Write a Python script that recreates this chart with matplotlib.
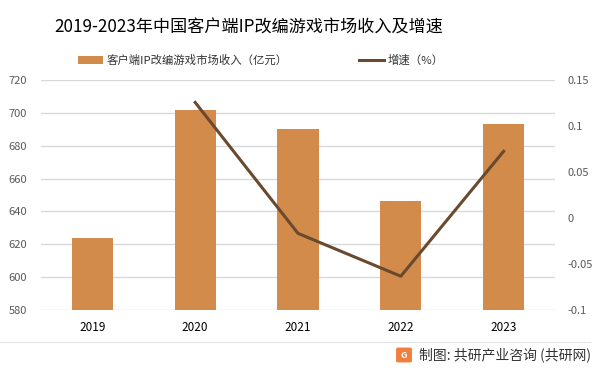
import matplotlib.pyplot as plt
from matplotlib.patches import FancyBboxPatch

plt.rcParams['font.family'] = ['Noto Sans CJK SC', 'DejaVu Sans']

years = ['2019', '2020', '2021', '2022', '2023']
revenue = [623.7, 702.0, 690.3, 646.6, 693.5]
growth_years = ['2020', '2021', '2022', '2023']
growth = [0.1256, -0.0167, -0.0633, 0.0725]

bar_color = '#D38B4C'
line_color = '#694A2E'
tick_color = '#595959'

fig = plt.figure(figsize=(6.01, 3.74), dpi=100)
ax = fig.add_axes([41 / 601, 1 - 310 / 374, 514 / 601, 230 / 374])
ax2 = ax.twinx()

x = list(range(len(years)))
ax.bar(x, revenue, width=0.4, color=bar_color, zorder=2,
       label='客户端IP改编游戏市场收入（亿元）')
ax.set_ylim(580, 720)
ax.set_yticks(range(580, 721, 20))
ax.set_xlim(-0.5, 4.5)
ax.set_xticks(x)
ax.set_xticklabels(years)
ax.grid(axis='y', color='#D9D9D9', linewidth=1, zorder=0)
ax.set_axisbelow(True)

gx = [years.index(y) for y in growth_years]
ax2.plot(gx, growth, color=line_color, linewidth=2.2, label='增速（%）', zorder=3)
ax2.set_ylim(-0.1, 0.15)
ax2.set_yticks([-0.1, -0.05, 0, 0.05, 0.1, 0.15])
ax2.set_yticklabels(['-0.1', '-0.05', '0', '0.05', '0.1', '0.15'])

for a in (ax, ax2):
    for s in a.spines.values():
        s.set_visible(False)
    a.tick_params(length=0, labelsize=8, colors=tick_color, pad=9)
ax.tick_params(axis='x', colors='black', labelsize=8.5, pad=8)
ax.tick_params(axis='y', pad=10)

fig.text(249 / 601, 0.925, '2019-2023年中国客户端IP改编游戏市场收入及增速',
         ha='center', va='center', fontsize=12.3, color='black')

h1, l1 = ax.get_legend_handles_labels()
h2, l2 = ax2.get_legend_handles_labels()
fig.legend(h1 + h2, l1 + l2, loc='center', bbox_to_anchor=(0.434, 0.838),
           ncol=2, frameon=False, fontsize=8.2, columnspacing=6.2,
           handlelength=2.2, handletextpad=0.3, labelcolor='#333333')

# footer
fig.add_artist(plt.Line2D([0, 590 / 601], [1 - 342 / 374] * 2,
                          color='#E3E3E3', linewidth=0.8))
fig.add_artist(FancyBboxPatch((398 / 601, 1 - 361 / 374), 12 / 601, 12 / 374,
                              boxstyle='round,pad=0.002', color='#F07F3C',
                              transform=fig.transFigure))
fig.text(404 / 601, 1 - 355 / 374, 'G', color='white', fontsize=6.5,
         fontweight='bold', ha='center', va='center')
fig.text(419 / 601, 1 - 355 / 374, '制图: 共研产业咨询 (共研网)',
         fontsize=10, color='#333333', ha='left', va='center')

fig.savefig('out.png', dpi=100)
